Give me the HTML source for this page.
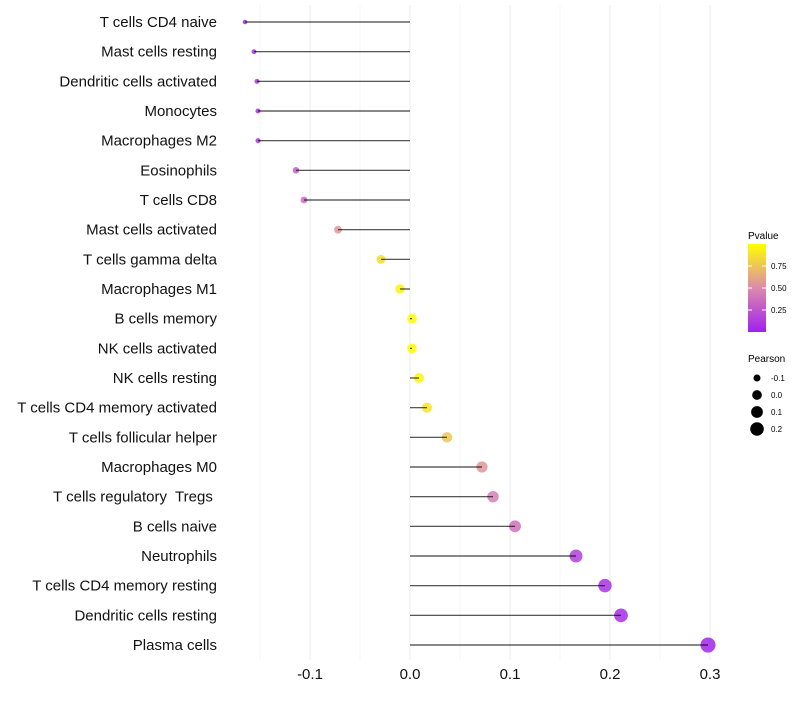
<!DOCTYPE html>
<html><head><meta charset="utf-8"><style>
body{margin:0;background:#fff;font-family:"Liberation Sans",sans-serif;}
svg text{font-family:"Liberation Sans",sans-serif;white-space:pre;}
</style></head><body>
<svg id="chart" width="800" height="700">
<defs><linearGradient id="pg" x1="0" y1="1" x2="0" y2="0">
<stop offset="0" stop-color="#a020f0"/><stop offset="0.5" stop-color="#dc8aac"/><stop offset="1" stop-color="#ffff00"/>
</linearGradient></defs>
<g id="grid"></g><g id="points"></g><g id="marks"></g><g id="ylabels"></g><g id="xlabels"></g>
<g>
<text x="748" y="239" font-size="10">Pvalue</text>
<rect x="748" y="244" width="18" height="88" fill="url(#pg)"/>
<g id="cbticks"></g>
</g>
<g id="sizeleg">
<text x="748" y="362" font-size="10">Pearson</text>
</g>
</svg>
<script>
const categories=["T cells CD4 naive","Mast cells resting","Dendritic cells activated","Monocytes","Macrophages M2","Eosinophils","T cells CD8","Mast cells activated","T cells gamma delta","Macrophages M1","B cells memory","NK cells activated","NK cells resting","T cells CD4 memory activated","T cells follicular helper","Macrophages M0","T cells regulatory  Tregs ","B cells naive","Neutrophils","T cells CD4 memory resting","Dendritic cells resting","Plasma cells"];
const pearson=[-0.165,-0.156,-0.153,-0.152,-0.152,-0.114,-0.106,-0.072,-0.029,-0.010,0.002,0.002,0.009,0.017,0.037,0.072,0.083,0.105,0.166,0.195,0.211,0.298];
const pvalue=[0.05,0.1,0.1,0.1,0.1,0.3,0.35,0.55,0.85,0.95,1.0,0.99,0.95,0.88,0.75,0.55,0.45,0.38,0.15,0.08,0.06,0.02];
const xTicks=[-0.1,0,0.1,0.2,0.3];
const xTickLabels=["-0.1","0.0","0.1","0.2","0.3"];
const cbTicks=[0.25,0.5,0.75];
const sizeLegend=[-0.1,0,0.1,0.2];
const NS="http://www.w3.org/2000/svg";
const X=v=>410+v*1000, Y=i=>22+i*(623/21);
const R=v=>Math.sqrt(Math.max(1,5+(v+0.165)*112));
const CB=p=>332-p*88;
function col(p){const s=[[160,32,240],[220,138,172],[255,255,0]];let a,b,t;if(p<0.5){a=s[0];b=s[1];t=p/0.5}else{a=s[1];b=s[2];t=(p-0.5)/0.5}return `rgb(${a.map((c,k)=>Math.round(c+(b[k]-c)*t)).join(',')})`;}
function mk(tag,at,par){const e=document.createElementNS(NS,tag);for(const k in at)e.setAttribute(k,at[k]);document.getElementById(par).appendChild(e);return e;}
for(let g=-0.15;g<=0.301;g+=0.05){const major=Math.abs(Math.round(g*100)%10)<1;const l=mk('line',{x1:X(g),x2:X(g),y1:5,y2:660,stroke:major?'#ebebeb':'#f3f3f3','stroke-width':major?1:0.7},'grid');

}
categories.forEach((c,i)=>{
const p=mk('circle',{cx:X(pearson[i]),cy:Y(i),r:R(pearson[i]),fill:col(pvalue[i]),'fill-opacity':0.85},'points');


const s=mk('line',{x1:X(0),x2:X(pearson[i]),y1:Y(i),y2:Y(i),stroke:'#000','stroke-width':1.2,'stroke-opacity':0.75},'marks');


const t=mk('text',{x:217,y:Y(i)+5,'font-size':15,'text-anchor':'end',fill:'#111'},'ylabels');t.textContent=c;


});
xTicks.forEach((v,i)=>{const t=mk('text',{x:X(v),y:679,'font-size':15,'text-anchor':'middle',fill:'#111'},'xlabels');t.textContent=xTickLabels[i];

});
cbTicks.forEach(v=>{mk('line',{x1:748,x2:752,y1:CB(v),y2:CB(v),stroke:'#fff'},'cbticks');mk('line',{x1:762,x2:766,y1:CB(v),y2:CB(v),stroke:'#fff'},'cbticks');
const t=mk('text',{x:771,y:CB(v)+3,'font-size':8},'cbticks');t.textContent=v.toFixed(2);

});
sizeLegend.forEach((v,i)=>{const y=378+i*17;const c=mk('circle',{cx:757,cy:y,r:R(v),fill:'#000'},'sizeleg');


const t=mk('text',{x:771,y:y+3,'font-size':8},'sizeleg');t.textContent=v.toFixed(1);

});
</script>
</body></html>
